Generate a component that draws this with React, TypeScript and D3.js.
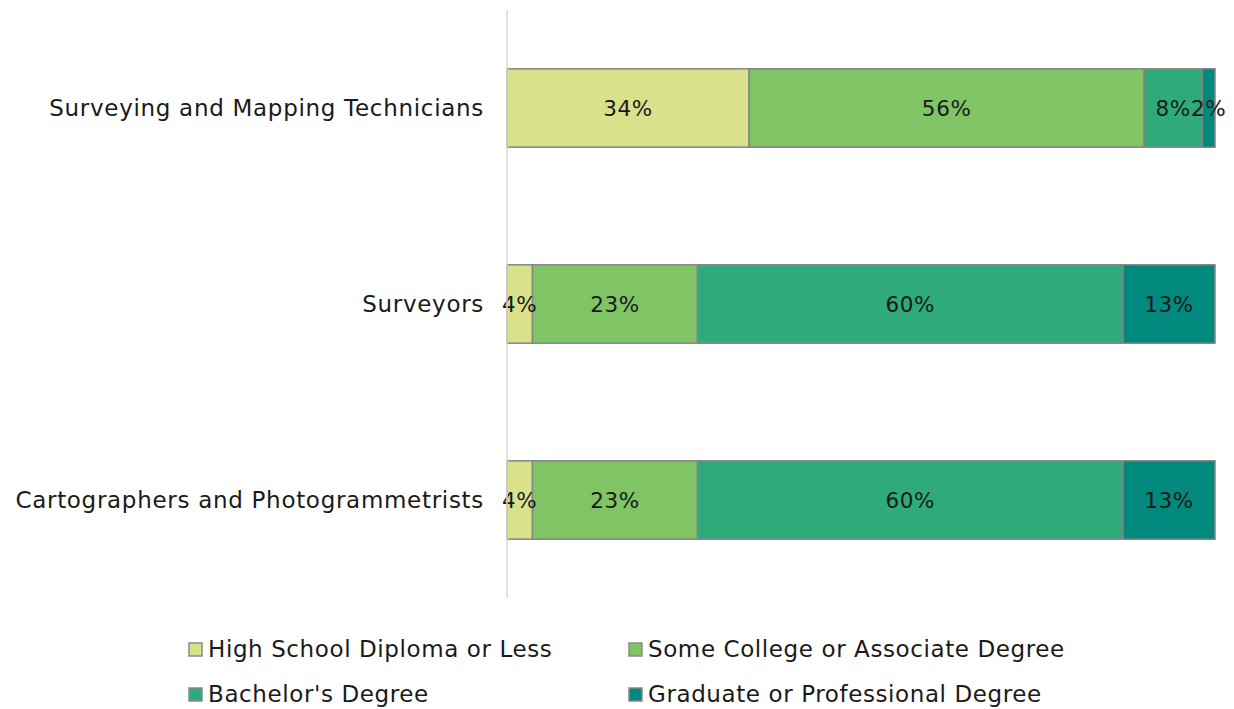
import React from "react";
import * as d3 from "d3";

const categories = ["Surveying and Mapping Technicians", "Surveyors", "Cartographers and Photogrammetrists"];
const seriesNames = ["High School Diploma or Less", "Some College or Associate Degree", "Bachelor's Degree", "Graduate or Professional Degree"];
const seriesColors = ["#d9e28a", "#7fc465", "#2faa7b", "#00897c"];
const highSchool = [34.2, 3.6, 3.6];
const someCollege = [55.8, 23.3, 23.3];
const bachelors = [8.2, 60.1, 60.1];
const graduate = [1.8, 13.0, 13.0];

const W = 1234, H = 709;
const FONT = "'DejaVu Sans', sans-serif";

export default function App() {
  const values = [highSchool, someCollege, bachelors, graduate];
  const x = d3.scaleLinear().domain([0, 100]).range([507, 1215]);
  const y = d3.scaleBand<string>().domain(categories).range([10, 598]).paddingInner(0.6).paddingOuter(0.3);
  const rows = categories.map((c, i) => {
    let acc = 0;
    return values.map((s, k) => {
      const v = s[i];
      const seg = { cat: c, k, x0: acc, x1: acc + v, v };
      acc += v;
      return seg;
    });
  });
  const legendPos = [
    { x: 189, y: 649 },
    { x: 629, y: 649 },
    { x: 189, y: 694 },
    { x: 629, y: 694 },
  ];
  return (
    <svg width={W} height={H} style={{ position: "absolute", left: 0, top: 0 }} fontFamily={FONT}>
      <rect width={W} height={H} fill="#fff" />
      {rows.map((segs, i) => (
        <g key={i}>
          {segs.map((s) => (
            <rect key={s.k} x={x(s.x0)} y={y(s.cat)!} width={x(s.x1) - x(s.x0)} height={y.bandwidth()}
              fill={seriesColors[s.k]} stroke="#858585" strokeWidth={1.5} />
          ))}
          {segs.map((s) => (
            <text key={"t" + s.k} x={(x(s.x0) + x(s.x1)) / 2} y={y(s.cat)! + y.bandwidth() / 2}
              dy="0.35em" textAnchor="middle" fontSize={21.5} letterSpacing={0.6} fill="#1a1a1a">{Math.round(s.v)}%</text>
          ))}
          <text x={484} y={y(categories[i])! + y.bandwidth() / 2} dy="0.35em" textAnchor="end" fontSize={23} letterSpacing={0.7} fill="#1a1a1a">{categories[i]}</text>
        </g>
      ))}
      <line x1={507} x2={507} y1={10} y2={598} stroke="#d9d9d9" strokeWidth={1.5} />
      {seriesNames.map((n, k) => (
        <g key={n}>
          <rect x={legendPos[k].x} y={legendPos[k].y - 6} width={13} height={13} fill={seriesColors[k]} stroke="#8a8a8a" strokeWidth={1.5} />
          <text x={legendPos[k].x + 19} y={legendPos[k].y} dy="0.35em" fontSize={23} letterSpacing={0.6} fill="#1a1a1a">{n}</text>
        </g>
      ))}
    </svg>
  );
}
